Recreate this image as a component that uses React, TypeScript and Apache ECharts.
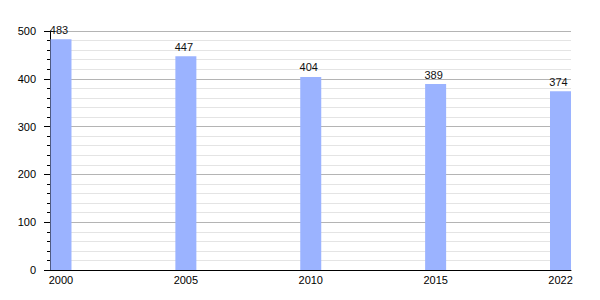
import React, { useEffect, useRef } from "react";
import * as echarts from "echarts";

const years = ["2000", "2005", "2010", "2015", "2022"];
const values = [483, 447, 404, 389, 374];
const yTicks = [0, 100, 200, 300, 400, 500];

export default function App() {
  const ref = useRef<HTMLDivElement>(null);
  useEffect(() => {
    if (!ref.current) return;
    const chart = echarts.init(ref.current, null, { renderer: "svg" });
    const font = "'Liberation Sans', Arial, sans-serif";
    chart.setOption({
      animation: false,
      backgroundColor: "#ffffff",
      grid: { left: 50, right: 29, top: 31, bottom: 30, containLabel: false },
      xAxis: {
        type: "value",
        min: -0.088,
        max: 4.084,
        axisLine: { show: true, onZero: false, lineStyle: { color: "#000", width: 1 } },
        axisTick: { show: false },
        splitLine: { show: false },
        axisLabel: {
          customValues: years.map((_, i) => i),
          formatter: (v: number) => years[Math.round(v)] ?? "",
          fontSize: 11,
          fontFamily: font,
          color: "#000",
          margin: 4,
        },
      },
      yAxis: {
        type: "value",
        min: yTicks[0],
        max: yTicks[yTicks.length - 1],
        interval: 100,
        axisLine: { show: true, onZero: false, lineStyle: { color: "#000", width: 1 } },
        axisTick: { show: true, length: 6, lineStyle: { color: "#000" } },
        minorTick: { show: true, splitNumber: 5, length: 3, lineStyle: { color: "#000" } },
        splitLine: { show: true, lineStyle: { color: "#b4b4b4", width: 1 } },
        minorSplitLine: { show: true, lineStyle: { color: "#e4e4e4", width: 1 } },
        axisLabel: { fontSize: 11, fontFamily: font, color: "#000", margin: 14 },
      },
      series: [
        {
          type: "bar",
          data: values.map((v, i) => [i, v]),
          barWidth: 21,
          itemStyle: { color: "#9bb3ff" },
          label: {
            show: true,
            position: "top",
            distance: 4,
            offset: [-2, 0],
            fontSize: 11,
            fontFamily: font,
            color: "#111",
          },
        },
      ],
    });
    return () => chart.dispose();
  }, []);
  return (
    <div
      ref={ref}
      style={{ position: "fixed", left: 0, top: 0, width: 600, height: 300, background: "#fff" }}
    />
  );
}
